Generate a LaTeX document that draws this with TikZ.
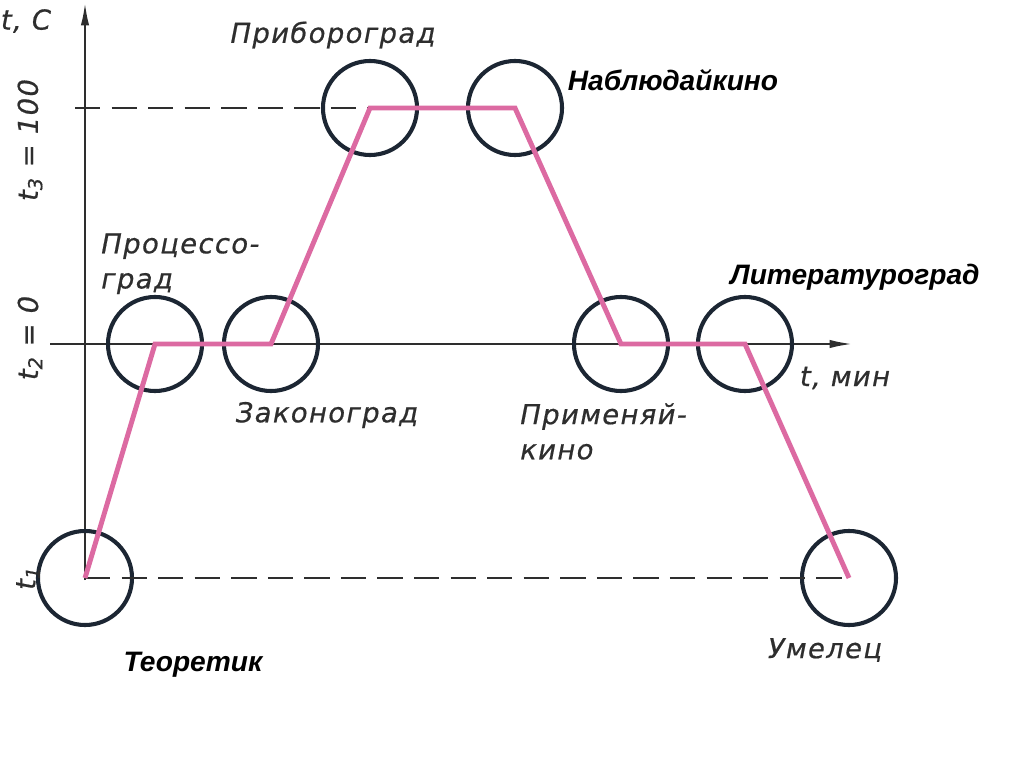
\documentclass[tikz,border=0pt]{standalone}
\usepackage{fontspec}
\setmainfont{Liberation Sans}
\newfontfamily\handfont[LetterSpace=5,FakeBold=0.6]{DejaVu Sans}
\usepackage{tikz}
\usetikzlibrary{arrows.meta, positioning}
\definecolor{rgPink}{HTML}{DC6AA2}
\definecolor{rgInk}{HTML}{1C2633}
\definecolor{rgGray}{HTML}{2E2E2E}

\begin{document}
\begin{tikzpicture}[x=0.025cm, y=-0.025cm,
  stage/.style={circle, draw=rgInk, line width=2.9pt, minimum size=2.35cm, inner sep=0pt},
  hand/.style={font=\handfont\itshape\fontsize{19.5}{25}\selectfont, text=rgGray, inner sep=0pt},
  boldlabel/.style={font=\bfseries\itshape\fontsize{20}{24}\selectfont, inner sep=0pt},
  axisline/.style={draw=rgGray, line width=1.4pt},
  levelline/.style={draw=rgGray, line width=1.4pt, dash pattern=on 18pt off 8pt},
  route/.style={draw=rgPink, line width=3.5pt, line join=miter}]
  \useasboundingbox (0,0) rectangle (1024,767);

  % axes
  \coordinate (yfoot) at (85,580);
  \coordinate (ytop) at (85,3);
  \coordinate (xfoot) at (50,344);
  \coordinate (xtip) at (852,344);
  \draw[axisline, -{Latex[length=16pt,width=6pt]}] (yfoot) -- (ytop);
  \draw[axisline, -{Latex[length=16pt,width=6pt]}] (xfoot) -- (xtip);

  % stages
  \node[stage] (teor) at (85,578) {};
  \node[stage] (proc) at (155,344) {};
  \node[stage] (zakon) at (271,344) {};
  \node[stage] (pribor) at (370,108) {};
  \node[stage] (nabl) at (515,108) {};
  \node[stage] (prim) at (621,344) {};
  \node[stage] (liter) at (745,344) {};
  \node[stage] (umel) at (849,578) {};

  % levels
  \coordinate (tthree) at (75,108);
  \draw[levelline] (tthree) -- (pribor.center);
  \draw[levelline] (teor.center) -- (umel.center);

  \draw[route] (teor.center) -- (proc.center) -- (zakon.center) -- (pribor.center)
    -- (nabl.center) -- (prim.center) -- (liter.center) -- (umel.center);

  % axis labels
  \node[hand] (tc) at (26,21) {t, C};
  \node[hand, rotate=90] (tthreelab) at (30,140) {t\textsubscript{3} = 100};
  \node[hand, rotate=90] (ttwolab) at (30,338) {t\textsubscript{2} = 0};
  \node[hand, rotate=90] (tonelab) at (28,578) {t\textsubscript{1}};
  \node[hand] (tmin) at (845,378) {t, мин};

  % stage labels
  \node[hand] (priborlab) at (333,35) {Прибороград};
  \node[hand, anchor=north west, align=left] (proclab) at (101,233) {Процессо-\\град};
  \node[hand] (zakonlab) at (327,415) {Законоград};
  \node[hand, anchor=north west, align=left] (primlab) at (520,403) {Применяй-\\кино};
  \node[hand] (umellab) at (825,650) {Умелец};
  \node[boldlabel] (nabllab) at (673,80) {Наблюдайкино};
  \node[boldlabel] (literlab) at (855,277) {Литературоград};
  \node[boldlabel] (teorlab) at (193,665) {Теоретик};
\end{tikzpicture}
\end{document}
